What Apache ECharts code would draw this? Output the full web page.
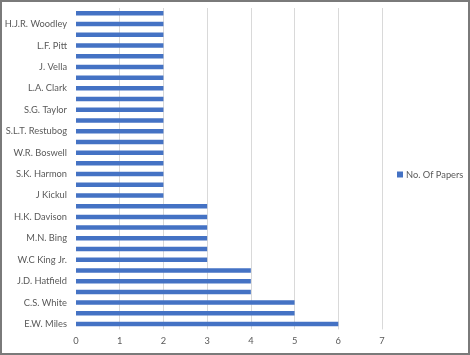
<!DOCTYPE html>
<html>
<head>
<meta charset="utf-8">
<script src="https://cdn.jsdelivr.net/npm/echarts@6/dist/echarts.min.js"></script>
<style>
html,body{margin:0;padding:0;background:#fff;}
#frame{width:470px;height:355px;box-sizing:border-box;border:2px solid #7a7a7a;background:#fff;}
#chart{width:466px;height:351px;}
</style>
</head>
<body>
<div id="frame"><div id="chart"></div></div>
<script>
// categories listed bottom to top (unlabeled ones are hidden by the alternating label interval)
const authors = [
  'E.W. Miles', 'Author 2', 'C.S. White', 'Author 4', 'J.D. Hatfield', 'Author 6',
  'W.C King Jr.', 'Author 8', 'M.N. Bing', 'Author 10', 'H.K. Davison', 'Author 12',
  'J Kickul', 'Author 14', 'S.K. Harmon', 'Author 16', 'W.R. Boswell', 'Author 18',
  'S.L.T. Restubog', 'Author 20', 'S.G. Taylor', 'Author 22', 'L.A. Clark', 'Author 24',
  'J. Vella', 'Author 26', 'L.F. Pitt', 'Author 28', 'H.J.R. Woodley', 'Author 30'
];
const papers = [6, 5, 5, 4, 4, 4, 3, 3, 3, 3, 3, 3, 2, 2, 2, 2, 2, 2, 2, 2, 2, 2, 2, 2, 2, 2, 2, 2, 2, 2];
const seriesName = 'No. Of Papers';
const xTicks = [0, 7, 1];

const chart = echarts.init(document.getElementById('chart'));
const font = 'Lato';
chart.setOption({
  animation: false,
  grid: { left: 74, right: 86, top: 6, bottom: 23.6, containLabel: false, outerBoundsMode: 'none' },
  legend: {
    data: [seriesName], left: 395, top: 168, width: 80, padding: 0,
    itemWidth: 6, itemHeight: 6, itemGap: 4,
    icon: 'rect',
    textStyle: { fontFamily: font, fontSize: 9.3, color: '#595959', padding: [0, 0, 0, -2] }
  },
  xAxis: {
    type: 'value', min: xTicks[0], max: xTicks[1], interval: xTicks[2],
    axisLine: { show: false }, axisTick: { show: false },
    splitLine: { show: true, lineStyle: { color: '#d9d9d9', width: 1 } },
    axisLabel: { fontFamily: font, fontSize: 9.3, color: '#595959', margin: 7 }
  },
  yAxis: {
    type: 'category', data: authors,
    axisLine: { show: true, lineStyle: { color: '#ffffff', width: 2 } },
    axisTick: { show: false },
    axisLabel: { interval: 1, fontFamily: font, fontSize: 9.3, color: '#595959', margin: 9 }
  },
  series: [{
    name: seriesName, type: 'bar', data: papers, barWidth: 4.5,
    itemStyle: { color: '#4472c4' }
  }]
});
</script>
</body>
</html>
